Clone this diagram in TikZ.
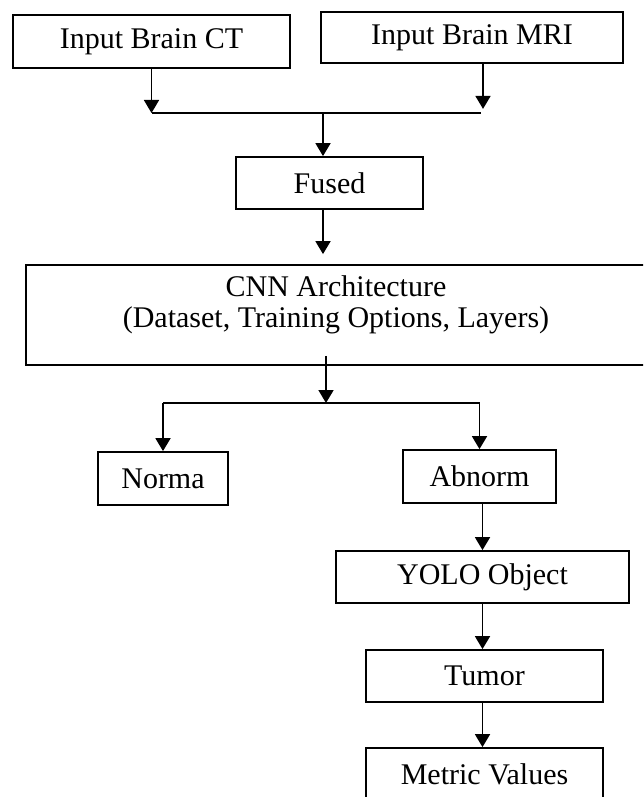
\documentclass[tikz,border=0pt]{standalone}
\usepackage{fontspec}
\setmainfont{Liberation Serif}
\usepackage{tikz}
\usetikzlibrary{arrows.meta}
\usetikzlibrary{positioning}

\begin{document}
\begin{tikzpicture}[x=0.5pt,y=-0.5pt,
    main node/.style={draw,line width=0.9pt,inner sep=0pt,align=center,
        font=\fontsize{15}{15.5}\selectfont},
    boxsize/.style 2 args={minimum width=#1*0.5pt,minimum height=#2*0.5pt},
    line/.style={line width=0.9pt},
    arr/.style={line,-{Triangle[width=7.5pt,length=6.5pt]}}]
    \useasboundingbox (0,0) rectangle (643,797);
    \clip (0,0) rectangle (643,797);

    \node[main node,boxsize={277}{53}] (ct) at (151.5,41.5) {Input Brain CT};
    \node[main node,boxsize={302}{51}] (mri) at (472,37.5) {Input Brain MRI};
    \node[main node,boxsize={187}{52}] (fused) at (329.5,183) {Fused};
    \node[main node,boxsize={620}{100}] (cnn) at (336,315)
        {CNN Architecture\\(Dataset, Training Options, Layers)\\[-2pt]~};
    \node[main node,boxsize={130}{53}] (norma) at (163,478.5) {Norma};
    \node[main node,boxsize={153}{53}] (abnorm) at (479.5,476.5) {Abnorm};
    \node[main node,boxsize={293}{52}] (yolo) at (482.5,577) {YOLO Object};
    \node[main node,boxsize={237}{52}] (tumor) at (484.5,676) {Tumor};
    \node[main node,boxsize={237}{52}] (metric) at (484.5,774) {Metric Values};

    \coordinate (join) at (323,113);
    \coordinate (split) at (326,403);

    % inputs merge
    \draw[arr] (ct.south) -- (ct.south |- join);
    \draw[arr] ([xshift=5.5pt]mri.south) -- ++(0,45);
    \draw[line] (ct.south |- join) -- ([xshift=4.5pt]mri.south |- join);
    \draw[arr] (join) -- (join |- fused.north);
    \draw[arr] (join |- fused.south) -- ([yshift=5pt]cnn.north -| join);

    % classification
    \draw[arr] ([yshift=5pt]cnn.south -| split) -- (split);
    \draw[line] (norma.north |- split) -- (abnorm.north |- split);
    \draw[arr] (norma.north |- split) -- (norma.north);
    \draw[arr] (abnorm.north |- split) -- (abnorm.north);

    % detection
    \draw[arr] ([xshift=1.5pt]abnorm.south) -- ([xshift=1.5pt]abnorm.south |- yolo.north);
    \draw[arr] (yolo.south) -- (yolo.south |- tumor.north);
    \draw[arr] ([xshift=-1pt]tumor.south) -- ([xshift=-1pt]tumor.south |- metric.north);
\end{tikzpicture}
\end{document}
